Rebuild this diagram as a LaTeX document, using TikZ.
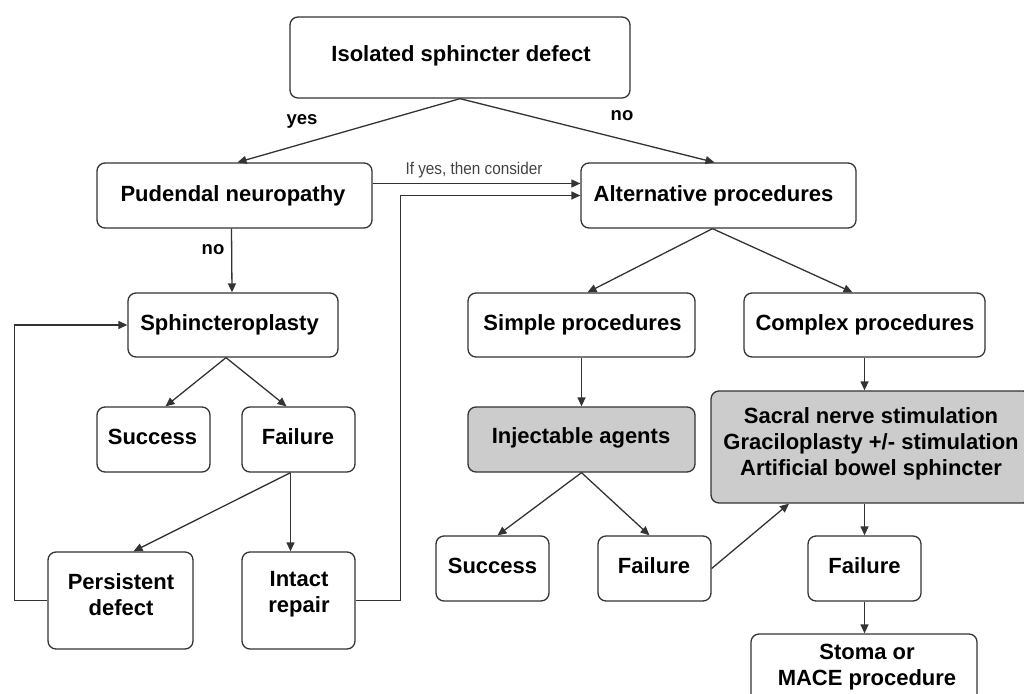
\documentclass[tikz,border=0pt]{standalone}
\usepackage{fontspec}
\setmainfont{Liberation Sans}
\newfontfamily\narrowsans[FakeStretch=0.9]{Liberation Sans}
\usetikzlibrary{arrows.meta}
\definecolor{linegray}{HTML}{333333}
\definecolor{boxgray}{HTML}{CCCCCC}
\definecolor{notegray}{HTML}{444444}
\begin{document}
\begin{tikzpicture}[x=1pt,y=-1pt,
  box/.style={draw=linegray, line width=1.3pt, rounded corners=8pt, inner sep=0pt, fill=white},
  shaded/.style={box, fill=boxgray},
  wh/.style 2 args={minimum width=#1, minimum height=#2},
  txt/.style={font=\fontsize{22}{26}\selectfont\bfseries, align=center, inner sep=0pt, text=black},
  cond/.style={font=\fontsize{18.5}{22}\selectfont\bfseries, inner sep=0pt, text=black},
  note/.style={font=\narrowsans\fontsize{17}{20}\selectfont, inner sep=0pt, text=notegray},
  arr/.style={draw=linegray, line width=1.3pt, -{Triangle[length=9pt,width=8pt]}}
]
\path[use as bounding box] (0,0) rectangle (1024,693);
\clip (0,0) rectangle (1024,693);

% boxes
\node[box, wh={340pt}{81pt}] (iso) at (460,57.5) {};
\node[box, wh={275pt}{65pt}] (pud) at (234.5,195.5) {};
\node[box, wh={275pt}{65pt}] (alt) at (718.5,195.5) {};
\node[box, wh={210pt}{64pt}] (sph) at (233,325) {};
\node[box, wh={227pt}{64pt}] (simple) at (581.5,325) {};
\node[box, wh={241pt}{64pt}] (complex) at (864.5,325) {};
\node[box, wh={113pt}{65pt}] (succ1) at (153.5,439.5) {};
\node[box, wh={113pt}{65pt}] (fail1) at (298.5,439.5) {};
\node[shaded, wh={227pt}{65pt}] (inj) at (581.5,439.5) {};
\node[shaded, wh={320pt}{112pt}] (sacral) at (871,447) {};
\node[box, wh={145pt}{97pt}] (pers) at (120.5,600.5) {};
\node[box, wh={113pt}{97pt}] (intact) at (298.5,600.5) {};
\node[box, wh={113pt}{65pt}] (succ2) at (492.5,568.5) {};
\node[box, wh={113pt}{65pt}] (fail2) at (654.5,568.5) {};
\node[box, wh={113pt}{65pt}] (fail3) at (864.5,568.5) {};
\node[box, wh={226pt}{76pt}] (stoma) at (864,672) {};

% box texts
\node[txt] (isot) at (461,55.5) {Isolated sphincter defect};
\node[txt] (pudt) at (233,195.5) {Pudendal neuropathy};
\node[txt] (altt) at (713.5,195.5) {Alternative procedures};
\node[txt] (spht) at (229.5,324.5) {Sphincteroplasty};
\node[txt] (simplet) at (582.5,324.5) {Simple procedures};
\node[txt] (complext) at (865,324.5) {Complex procedures};
\node[txt] (succ1t) at (152.5,437) {Success};
\node[txt] (fail1t) at (298,437) {Failure};
\node[txt] (injt) at (581,438) {Injectable agents};
\node[txt] (sacralt) at (871,444) {Sacral nerve stimulation\\Graciloplasty +/- stimulation\\Artificial bowel sphincter};
\node[txt] (perst) at (121,595) {Persistent\\defect};
\node[txt] (intactt) at (299,594.5) {Intact\\repair};
\node[txt] (succ2t) at (492.5,566) {Success};
\node[txt] (fail2t) at (654,566) {Failure};
\node[txt] (fail3t) at (864.5,566) {Failure};
\node[txt] (stomat) at (867,667) {Stoma or\\MACE procedure};

% connectors
\draw[arr] (iso.south) -- ([xshift=3pt]pud.north);
\draw[arr] (iso.south) -- ([xshift=-4pt]alt.north);
\draw[arr] ([yshift=12pt]pud.east) -- ([yshift=12pt]alt.west);
\draw[arr] (intact.east) -- ++(45,0) |- (alt.west);
\draw[arr] ([xshift=-3pt]pud.south) -- ([xshift=-1pt]sph.north);
\draw[arr] (pers.west) -- ++(-33,0) |- (sph.west);
\draw[arr] ([xshift=-7pt]sph.south) -- ([xshift=12pt]succ1.north);
\draw[arr] ([xshift=-7pt]sph.south) -- ([xshift=-12pt]fail1.north);
\draw[arr] ([xshift=-8pt]fail1.south) -- ([xshift=13pt]pers.north);
\draw[arr] ([xshift=-8pt]fail1.south) -- ([xshift=-8pt]intact.north);
\draw[arr] ([xshift=-6pt]alt.south) -- ([xshift=6pt]simple.north);
\draw[arr] ([xshift=-6pt]alt.south) -- ([xshift=-12pt]complex.north);
\draw[arr] (simple.south) -- (inj.north);
\draw[arr] (complex.south) -- (complex.south |- sacral.north);
\draw[arr] (inj.south) -- ([xshift=5pt]succ2.north);
\draw[arr] (inj.south) -- ([xshift=-5pt]fail2.north);
\draw[arr] (fail2.east) -- ([xshift=-82pt]sacral.south);
\draw[arr] (fail3.north |- sacral.south) -- (fail3.north);
\draw[arr] (fail3.south) -- (fail3.south |- stoma.north);

% connector labels
\node[cond] (yes1) at (302,121) {yes};
\node[cond] (no1) at (622,116) {no};
\node[cond] (no2) at (213,250) {no};
\node[note] (consider) at (474,170) {If yes, then consider};
\end{tikzpicture}
\end{document}
